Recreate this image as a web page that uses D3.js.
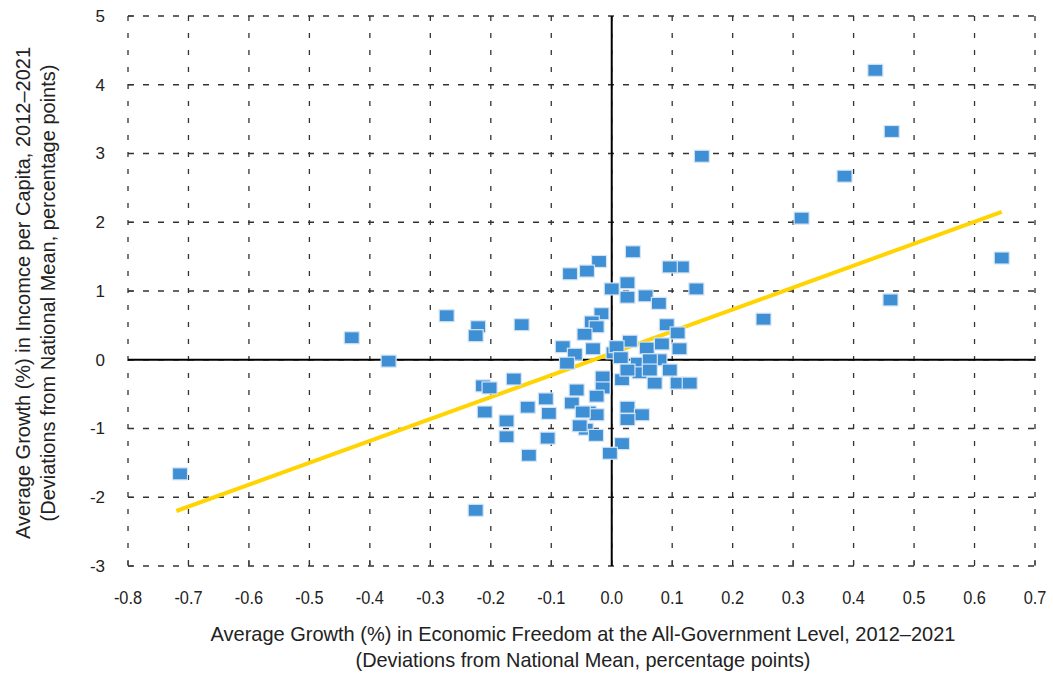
<!DOCTYPE html>
<html>
<head>
<meta charset="utf-8">
<script src="https://cdn.jsdelivr.net/npm/d3@7"></script>
<style>
  body { margin: 0; background: #fff; }
  .ytick { font-family: "Liberation Sans", Arial, sans-serif; font-size: 17px; fill: #222; }
  .xtick { font-family: "Liberation Sans", Arial, sans-serif; font-size: 19px; fill: #222; }
  .xtitle { font-family: "Liberation Sans", Arial, sans-serif; font-size: 21px; fill: #222; }
  .ytitle { font-family: "Liberation Sans", Arial, sans-serif; font-size: 20px; fill: #222; }
</style>
</head>
<body>
<div id="chart"></div>
<script>
// economic freedom growth deviation (x) vs income growth deviation (y)
const freedomDev = [
  0.436, 0.463, 0.385, 0.149, 0.314, 0.645, 0.461, 0.251, -0.430, -0.369,
  -0.714, -0.225, -0.273, -0.221, -0.225, -0.149, -0.213, -0.202, -0.162, -0.210,
  -0.174, -0.174, -0.139, -0.137, -0.109, -0.104, -0.106, 0.035, -0.021, -0.041,
  -0.069, 0.116, 0.096, 0.026, 0.000, 0.026, 0.056, 0.078, 0.140, -0.017,
  -0.033, -0.025, -0.045, 0.091, 0.109, -0.081, -0.061, -0.031, 0.030, 0.058,
  0.083, 0.112, 0.003, 0.008, 0.015, -0.074, 0.043, 0.079, 0.063, 0.096,
  0.046, 0.063, -0.015, -0.015, 0.017, 0.071, 0.109, 0.129, -0.058, -0.025,
  -0.066, -0.038, -0.025, 0.026, 0.050, 0.026, -0.043, -0.053, -0.026, 0.017,
  -0.003, 0.026, -0.048
]
const incomeDev = [
  4.21, 3.32, 2.67, 2.96, 2.06, 1.48, 0.87, 0.59, 0.32, -0.02,
  -1.66, -2.19, 0.64, 0.48, 0.35, 0.51, -0.38, -0.41, -0.28, -0.76,
  -0.89, -1.12, -0.69, -1.39, -0.57, -0.78, -1.14, 1.57, 1.43, 1.29,
  1.25, 1.35, 1.35, 1.12, 1.03, 0.91, 0.93, 0.82, 1.03, 0.67,
  0.55, 0.48, 0.37, 0.51, 0.39, 0.19, 0.08, 0.16, 0.27, 0.17,
  0.23, 0.16, 0.10, 0.19, 0.03, -0.05, -0.05, 0.00, 0.00, -0.15,
  -0.19, -0.15, -0.25, -0.41, -0.29, -0.34, -0.34, -0.34, -0.44, -0.53,
  -0.63, -0.76, -0.80, -0.69, -0.80, -0.87, -1.01, -0.96, -1.10, -1.22,
  -1.36, -0.15, -0.76
]

// fitted trend line end points
const trendX = [-0.72, 0.645]
const trendY = [-2.2, 2.15]

const xTicks = [-0.8, -0.7, -0.6, -0.5, -0.4, -0.3, -0.2, -0.1, 0.0, 0.1, 0.2, 0.3, 0.4, 0.5, 0.6, 0.7]
const yTicks = [-3, -2, -1, 0, 1, 2, 3, 4, 5]

const xTitle = ['Average Growth (%) in Economic Freedom at the All-Government Level, 2012\u20132021',
  '(Deviations from National Mean, percentage points)']
const yTitle = ['Average Growth (%) in Incomce per Capita, 2012\u20132021',
  '(Deviations from National Mean, percentage points)']

const width = 1053
const height = 675
const margin = { top: 16, right: 18, bottom: 109, left: 128 }
const plotW = width - margin.left - margin.right
const plotH = height - margin.top - margin.bottom

const x = d3.scaleLinear().domain([-0.8, 0.7]).range([0, plotW])
const y = d3.scaleLinear().domain([-3, 5]).range([plotH, 0])

// plain hyphen for negatives, like the original
const fmtX = d => d3.format('.1f')(d).replace('\u2212', '-')

const svg = d3.select('#chart')
  .append('svg')
  .attr('width', width)
  .attr('height', height)

const g = svg.append('g')
  .attr('transform', `translate(${margin.left},${margin.top})`)

// dashed grid
g.append('g')
  .selectAll('line')
  .data(yTicks)
  .enter()
  .append('line')
  .attr('x1', 0)
  .attr('x2', plotW)
  .attr('y1', d => y(d))
  .attr('y2', d => y(d))
  .attr('stroke', '#333')
  .attr('stroke-width', 1.3)
  .attr('stroke-dasharray', '6,9')

g.append('g')
  .selectAll('line')
  .data(xTicks)
  .enter()
  .append('line')
  .attr('x1', d => x(d))
  .attr('x2', d => x(d))
  .attr('y1', 0)
  .attr('y2', plotH)
  .attr('stroke', '#333')
  .attr('stroke-width', 1.3)
  .attr('stroke-dasharray', '5,12')

// small inward tick marks on left and bottom edges
g.append('g')
  .selectAll('line')
  .data(yTicks)
  .enter()
  .append('line')
  .attr('x1', 0)
  .attr('x2', 5)
  .attr('y1', d => y(d))
  .attr('y2', d => y(d))
  .attr('stroke', '#333')
  .attr('stroke-width', 1)

g.append('g')
  .selectAll('line')
  .data(xTicks)
  .enter()
  .append('line')
  .attr('x1', d => x(d))
  .attr('x2', d => x(d))
  .attr('y1', plotH)
  .attr('y2', plotH - 5)
  .attr('stroke', '#333')
  .attr('stroke-width', 1)

// zero lines
g.append('line')
  .attr('x1', 0).attr('x2', plotW)
  .attr('y1', y(0)).attr('y2', y(0))
  .attr('stroke', '#000')
  .attr('stroke-width', 2)

g.append('line')
  .attr('x1', x(0)).attr('x2', x(0))
  .attr('y1', 0).attr('y2', plotH)
  .attr('stroke', '#000')
  .attr('stroke-width', 2)

// trend line
const line = d3.line().x(d => x(d[0])).y(d => y(d[1]))
g.append('path')
  .attr('d', line(trendX.map((v, i) => [v, trendY[i]])))
  .attr('fill', 'none')
  .attr('stroke', '#FFD400')
  .attr('stroke-width', 4)

// points
const sqW = 15
const sqH = 12
g.append('g')
  .selectAll('rect')
  .data(freedomDev.map((v, i) => ({ fx: v, iy: incomeDev[i] })))
  .enter()
  .append('rect')
  .attr('x', d => x(d.fx) - sqW / 2)
  .attr('y', d => y(d.iy) - sqH / 2)
  .attr('width', sqW)
  .attr('height', sqH)
  .attr('fill', '#3F8FD4')
  .attr('stroke', '#d3e4f5')
  .attr('stroke-width', 1.2)

// tick labels
g.append('g')
  .selectAll('text')
  .data(yTicks)
  .enter()
  .append('text')
  .attr('class', 'ytick')
  .attr('x', -23)
  .attr('y', d => y(d))
  .attr('dy', '0.35em')
  .attr('text-anchor', 'end')
  .text(d => d)

// condensed look: squeeze horizontally
g.append('g')
  .selectAll('text')
  .data(xTicks)
  .enter()
  .append('text')
  .attr('class', 'xtick')
  .attr('transform', d => `translate(${x(d)},${plotH + 38}) scale(0.86,1)`)
  .attr('text-anchor', 'middle')
  .text(fmtX)

// axis titles
const xTitleLen = [745, 455]
svg.append('text')
  .attr('class', 'xtitle')
  .attr('text-anchor', 'middle')
  .selectAll('tspan')
  .data(xTitle)
  .enter()
  .append('tspan')
  .attr('x', 583)
  .attr('y', (d, i) => 641 + i * 26)
  .attr('textLength', (d, i) => xTitleLen[i])
  .attr('lengthAdjust', 'spacingAndGlyphs')
  .text(d => d)

svg.append('text')
  .attr('class', 'ytitle')
  .attr('text-anchor', 'middle')
  .attr('transform', 'translate(0,293) rotate(-90)')
  .selectAll('tspan')
  .data(yTitle)
  .enter()
  .append('tspan')
  .attr('x', 0)
  .attr('y', (d, i) => 30 + i * 25)
  .text(d => d)
</script>
</body>
</html>
